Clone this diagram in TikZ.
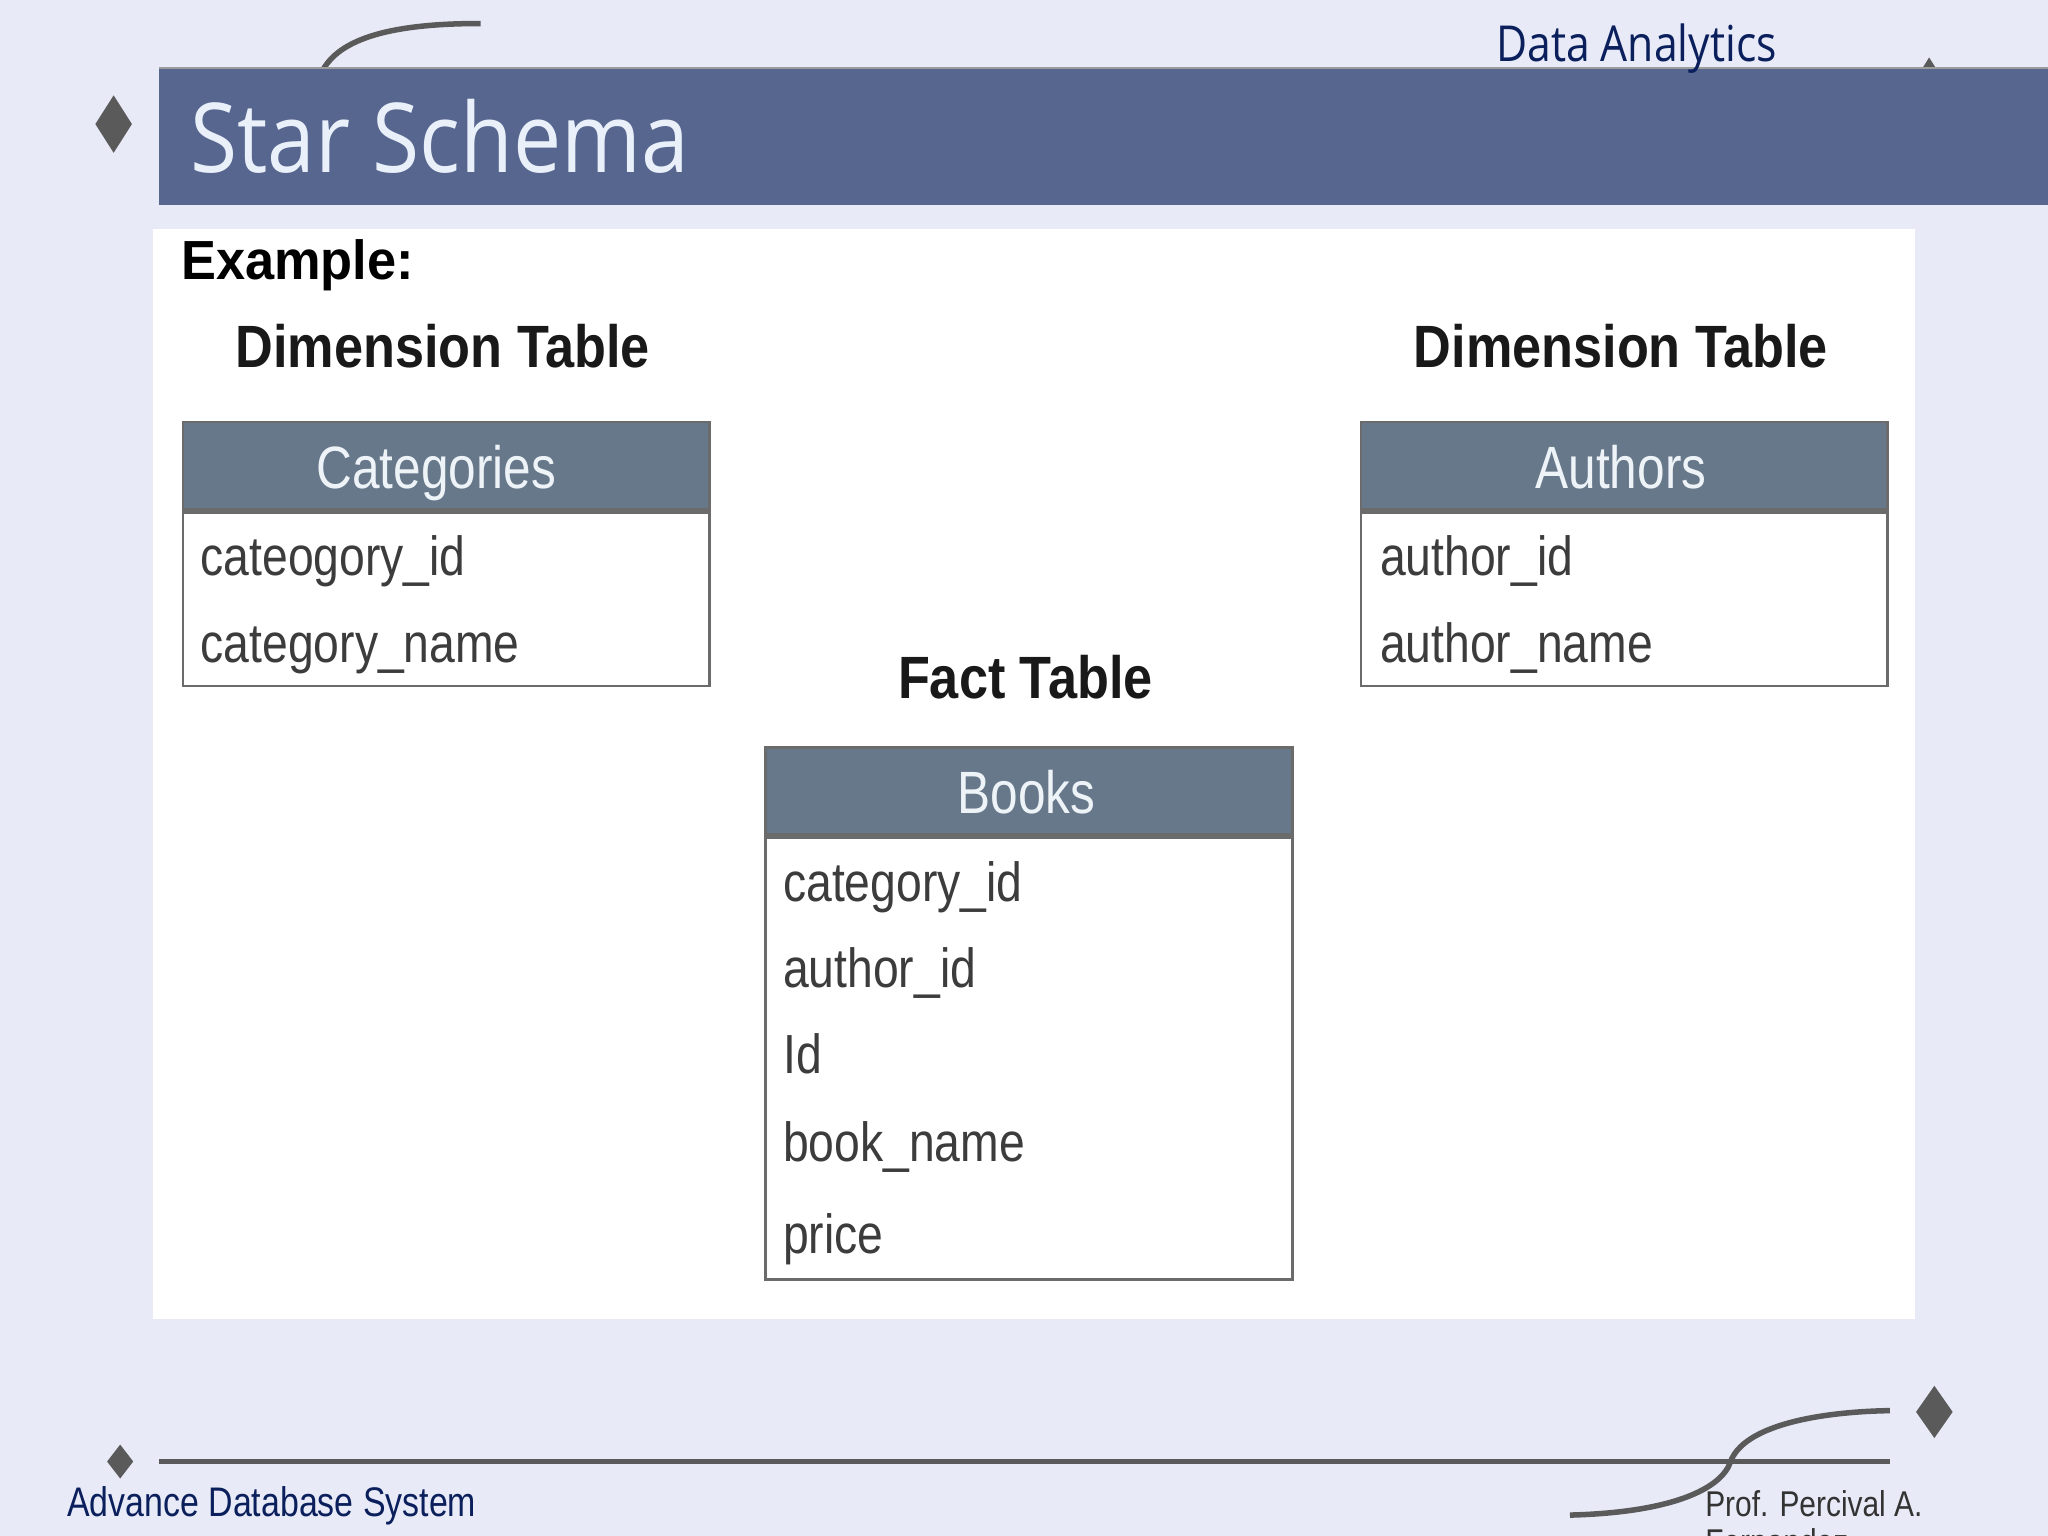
\documentclass[tikz,border=0pt]{standalone}
\usepackage{fontspec}
\setmainfont{Liberation Sans}
\newfontfamily\titlefont{Open Sans}
\usepackage{tikz}
\usetikzlibrary{positioning}
\usepackage{xcolor}

\definecolor{slidebg}{HTML}{E8EBF7}
\definecolor{barblue}{HTML}{56668F}
\definecolor{titlewhite}{HTML}{EAF0FA}
\definecolor{navy}{HTML}{0A1F5C}
\definecolor{decogray}{HTML}{5A5A5A}
\definecolor{headfill}{HTML}{66788A}
\definecolor{headtext}{HTML}{EEF3F8}
\definecolor{tblline}{HTML}{6B6B6B}
\definecolor{fieldtext}{HTML}{3C3C3C}

\tikzset{
squeeze/.style={xscale=#1, inner sep=0pt, anchor=base west},
squeeze/.default=0.86,
headbox/.style={draw=tblline, fill=headfill, line width=0.6pt, inner sep=0pt, minimum width=4.03cm, minimum height=0.67cm, anchor=north west},
bodybox/.style={draw=tblline, fill=white, line width=0.6pt, inner sep=0pt, minimum width=4.03cm, anchor=north west},
headlabel/.style={squeeze=0.83, anchor=base, text=headtext, font=\fontsize{13}{15}\selectfont},
field/.style={squeeze=0.84, text=fieldtext, font=\fontsize{12}{14}\selectfont},
tabletitle/.style={squeeze=0.875, anchor=base, text=black!90, font=\bfseries\fontsize{13}{15}\selectfont},
gem/.style={fill=decogray, draw=none}
}

\begin{document}
\begin{tikzpicture}[x=0.01cm, y=-0.01cm]

\useasboundingbox (0,0) rectangle (1568,1176);
\fill[slidebg] (0,0) rectangle (1568,1176);

% top decoration, behind the bar
\draw[decogray, line width=1.2pt] (247,54) .. controls (262,26) and (310,18) .. (368,18);
\fill[gem] (1477,44)--++(10,16)--++(-10,16)--++(-10,-16)--cycle;

\fill[barblue] (122,52) rectangle (1568,157);
\draw[decogray!60, line width=0.4pt] (122,52)--(1568,52);

\fill[gem] (87,73)--++(14,22)--++(-14,22)--++(-14,-22)--cycle;


\node[squeeze=0.89, text=titlewhite] (title) at (145,132) [font=\titlefont\fontsize{21}{25}\selectfont]
{Star Schema};

\node[squeeze, text=navy] (course) at (1145,47) [font=\titlefont\fontsize{10.8}{13}\selectfont]
{Data Analytics};


% white panel
\fill[white] (117,175) rectangle (1466,1010);

\node[squeeze=0.95, text=black] (example) at (138,214) [font=\bfseries\fontsize{12}{14}\selectfont]
{Example:};

\node[tabletitle] (dimleft) at (339,281) {Dimension Table};
\node[tabletitle] (dimright) at (1241,281) {Dimension Table};
\node[tabletitle] (fact) at (785,535) {Fact Table};


% Categories
{
\node[headbox] (cathead) at (139,322) {};
\node[bodybox, minimum height=1.33cm] (catbody) at (cathead.south west) {};

\node[headlabel] (catname) at (334,374) {Categories};

\node[field] (catid) at (153,441) {cateogory\_id};
\node[field] (catlabel) at (153,507) {category\_name};
}


% Authors
{
\node[headbox] (authhead) at (1041,322) {};
\node[bodybox, minimum height=1.33cm] (authbody) at (authhead.south west) {};

\node[headlabel] (authname) at (1241,374) {Authors};

\node[field] (authid) at (1056,441) {author\_id};
\node[field] (authlabel) at (1056,507) {author\_name};
}


% Books
{
\node[headbox] (bookhead) at (585,571) {};
\node[bodybox, minimum height=3.38cm] (bookbody) at (bookhead.south west) {};

\node[headlabel] (bookname) at (786,623) {Books};

\node[field] (bookcat) at (599,690) {category\_id};
\node[field] (bookauth) at (599,756) {author\_id};
\node[field] (bookid) at (599,822) {Id};
\node[field] (booklabel) at (599,889) {book\_name};
\node[field] (bookprice) at (599,960) {price};
}


% footer
\draw[decogray, line width=1.2pt] (122,1119)--(1447,1119);
\fill[gem] (92,1106)--++(10,13)--++(-10,13)--++(-10,-13)--cycle;

\draw[decogray, line width=1.2pt] (1202,1160) .. controls (1280,1158) and (1318,1140) .. (1325,1119)
  .. controls (1335,1092) and (1390,1081) .. (1447,1080);
\fill[gem] (1481,1061)--++(14,20)--++(-14,20)--++(-14,-20)--cycle;

\node[squeeze=0.82, text=navy] (subject) at (51,1161) [font=\fontsize{9}{11}\selectfont]
{Advance Database System};

\node[squeeze=0.835, text=black!80] (prof) at (1305,1161) [font=\fontsize{7.8}{9.6}\selectfont]
{Prof. Percival A.};
\node[squeeze=0.835, text=black!80] (prof2) at (1305,1190) [font=\fontsize{7.8}{9.6}\selectfont]
{Fernandez};

\end{tikzpicture}
\end{document}
